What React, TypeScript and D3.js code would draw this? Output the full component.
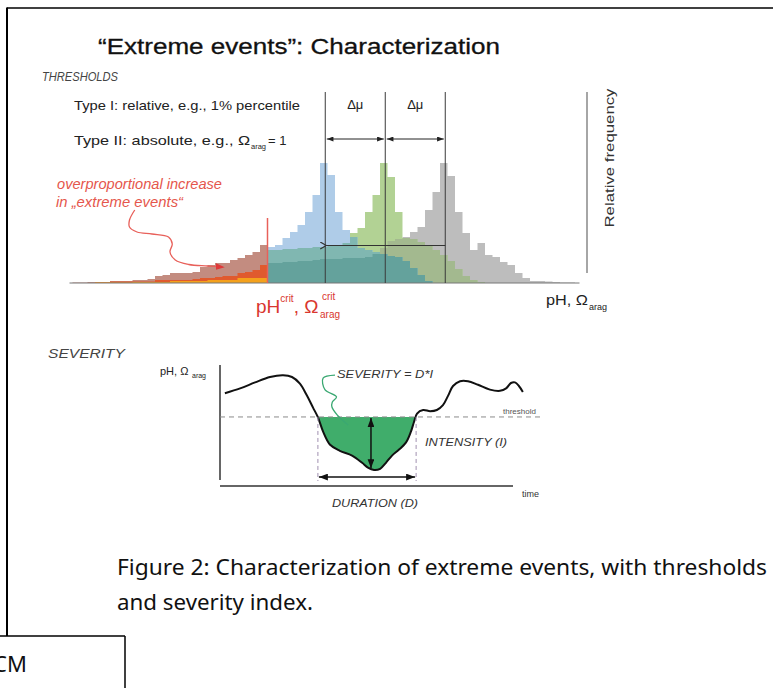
import React from 'react';
import * as d3 from 'd3';

// histogram bins, in bin units relative to the first (blue) mode
const BINS = d3.range(-33, 35);
// relative frequency per bin
const blueFreq = [
  0.5, 0.5, 1, 1, 1, 2, 2, 2, 3, 3, 4, 7, 8, 10, 10, 10, 11, 16, 18, 20, 20, 23, 25, 28, 31, 38,
  36, 38, 45, 51, 58, 71, 88, 120, 108, 71, 53, 46, 35, 33, 31, 29, 27, 26, 22, 15, 8, 2,
  0, 0, 0, 0, 0, 0, 0, 0, 0, 0, 0, 0, 0, 0, 0, 0, 0, 0, 0, 0,
];
const greenFreq = [
  0, 0, 0, 0.5, 0.5, 1.5, 1.5, 1.5, 1.5, 1.5, 1.5, 3, 3, 3, 3, 3, 4, 5, 5, 6, 7, 7, 10, 11, 13, 18,
  33, 33, 34, 34, 35, 35, 36, 36, 37, 38, 40, 50, 55, 71, 88, 120, 106, 71, 45, 44, 41, 37, 33, 28, 22, 14, 7, 3, 1,
  0, 0, 0, 0, 0, 0, 0, 0, 0, 0, 0, 0, 0,
];
const grayFreq = [
  0, 0, 0, 0.5, 0.5, 0.5, 0.5, 0.5, 1, 1, 1, 1, 1, 2, 2, 2, 2, 2, 3, 3, 3, 3, 5, 5, 5, 5,
  20, 20, 21, 21, 22, 22, 23, 24, 24, 24, 25, 25, 25, 26, 29, 35, 42, 44, 46, 51, 56, 73, 91, 120, 107, 71,
  50, 33, 40, 28, 26, 21, 18, 10, 5, 2, 2, 1.5, 1, 0.5, 0.5, 0,
];
const modeMeans = [0.7, 8.7, 16.7];
const critBin = -7;
const deltaLabels = ['Δμ', 'Δμ'];

// severity panel: time series (time 0-100, value 0-100)
const sevTime = [1.6, 6.6, 11.5, 16.4, 20.7, 23.6, 26.2, 28.5, 30.5, 32.1, 33.8, 36.1, 39.3, 43.3, 46.6, 48.5, 50.5, 52.5, 54.4, 56.4, 58.7, 61, 62.6, 63.6, 64.6, 66.6, 68.9, 71.1, 73.1, 74.8, 76.4, 78.7, 81.3, 84.6, 88.5, 91.8, 93.8, 95.4, 96.7, 98, 99.3];
const sevValue = [74, 78, 83, 87.5, 89, 87.5, 82, 72, 62, 54, 42, 31, 26, 22, 16, 12, 10, 11, 16, 22, 27, 33, 42, 50, 57, 60, 59, 60, 64, 72, 80, 84, 84, 81, 77, 76, 78, 82.5, 83, 80, 75];
const sevThreshold = 54.2;
const durationStart = 32.1;
const durationEnd = 64.3;
const intensityTime = 49.5;
const intensityMin = 11.5;

// annotation pointers
const redPointer: [number, number][] = [[-24.7, 73], [-25.4, 63], [-25.4, 56], [-24.4, 51], [-22.4, 49], [-20.2, 46], [-19.7, 39], [-20, 31], [-19.3, 23], [-17.5, 18.5], [-15, 17], [-13, 16]];
const greenPointer: [number, number][] = [[37.7, 89], [33.8, 86.5], [34.4, 77], [38.2, 71], [36.8, 66.5], [36.7, 62.5], [38.4, 56], [42, 47.5]];

const FONT = "'Liberation Sans', Arial, sans-serif";
const CAPTION_FONT = "'Noto Sans', 'Open Sans', sans-serif";

export default function App() {
  const xH = d3.scaleLinear().domain([-34, 35]).range([65, 582.5]);
  const yH = d3.scaleLinear().domain([0, 120]).range([283, 163]);
  const xT = d3.scaleLinear().domain([0, 100]).range([220, 525]);
  const yS = d3.scaleLinear().domain([0, 100]).range([482, 362]);

  const stepArea = (vals: number[]) => {
    const pts: [number, number][] = vals.map((v, i) => [BINS[i], v]);
    pts.push([BINS[BINS.length - 1] + 1, vals[vals.length - 1]]);
    return d3.area<[number, number]>()
      .x(d => xH(d[0]))
      .y0(yH(0))
      .y1(d => yH(d[1]))
      .curve(d3.curveStepAfter)(pts) || '';
  };
  const minOf = (...arrs: number[][]) => BINS.map((_, i) => Math.min(...arrs.map(a => a[i])));

  // single + overlap layers; tail colours left of the critical threshold
  const layers = [
    { vals: grayFreq, main: '#bdbdbd', tail: '#f4a11c' },
    { vals: greenFreq, main: '#b2d294', tail: '#e05a2e' },
    { vals: blueFreq, main: '#afcce8', tail: '#c38c80' },
    { vals: minOf(greenFreq, grayFreq), main: '#a3b98f', tail: '#f08a22' },
    { vals: minOf(blueFreq, grayFreq), main: '#8fb4c4', tail: '#f4a11c' },
    { vals: minOf(blueFreq, greenFreq), main: '#80b7b1', tail: '#e05a2e' },
    { vals: minOf(blueFreq, greenFreq, grayFreq), main: '#64a29c', tail: '#f4a11c' },
  ];

  const critX = xH(critBin);

  const sevPts: [number, number][] = sevTime.map((t, i) => [t, sevValue[i]]);
  const sevLine = d3.line<[number, number]>().x(d => xT(d[0])).y(d => yS(d[1])).curve(d3.curveCatmullRom)(sevPts) || '';
  const sevArea = d3.area<[number, number]>().x(d => xT(d[0])).y0(yS(sevThreshold)).y1(d => yS(d[1])).curve(d3.curveCatmullRom)(sevPts) || '';
  const thrY = yS(sevThreshold);

  const redPath = d3.line<[number, number]>().x(d => xH(d[0])).y(d => yH(d[1])).curve(d3.curveCatmullRom)(redPointer) || '';
  const greenPath = d3.line<[number, number]>().x(d => xT(d[0])).y(d => yS(d[1])).curve(d3.curveCatmullRom)(greenPointer) || '';

  const meanX = modeMeans.map(m => xH(m));

  return (
    <svg width={773} height={688} style={{ position: 'absolute', left: 0, top: 0, background: '#fff' }} fontFamily={FONT}>
      <defs>
        <marker id="ah" viewBox="0 0 8 6" refX="8" refY="3" markerWidth="7" markerHeight="5" markerUnits="userSpaceOnUse" orient="auto-start-reverse">
          <path d="M0,0 L8,3 L0,6 z" fill="#222" />
        </marker>
        <marker id="ahBig" viewBox="0 0 8 6" refX="8" refY="3" markerWidth="9" markerHeight="7" markerUnits="userSpaceOnUse" orient="auto-start-reverse">
          <path d="M0,0 L8,3 L0,6 z" fill="#111" />
        </marker>
        <marker id="chev" viewBox="0 0 8 8" refX="1" refY="4" markerWidth="8" markerHeight="8" markerUnits="userSpaceOnUse" orient="auto">
          <path d="M7,0.5 L1,4 L7,7.5" fill="none" stroke="#333" strokeWidth="1.2" />
        </marker>
        <marker id="ahRed" viewBox="0 0 8 6" refX="6" refY="3" markerWidth="9" markerHeight="7" markerUnits="userSpaceOnUse" orient="auto">
          <path d="M0,0 L8,3 L0,6 z" fill="#e0393a" />
        </marker>
        <clipPath id="tailClip"><rect x={0} y={0} width={critX} height={400} /></clipPath>
        <clipPath id="mainClip"><rect x={critX} y={0} width={773 - critX} height={400} /></clipPath>
        <clipPath id="belowThr"><rect x={0} y={thrY} width={773} height={200} /></clipPath>
      </defs>

      {/* frame */}
      <line x1={7} y1={8} x2={773} y2={8} stroke="#000" strokeWidth={1.5} />
      <line x1={7} y1={7.5} x2={7} y2={636} stroke="#000" strokeWidth={2} />
      <line x1={0} y1={636} x2={125} y2={636} stroke="#000" strokeWidth={1.5} />
      <line x1={125} y1={636} x2={125} y2={688} stroke="#000" strokeWidth={1.5} />
      <text x={-7} y={672} fontFamily={CAPTION_FONT} fontSize={22} fill="#111">CM</text>

      {/* title */}
      <text x={98} y={54} fontSize={22} fill="#111" stroke="#111" strokeWidth={0.3} textLength={402} lengthAdjust="spacingAndGlyphs">“Extreme events”: Characterization</text>
      <text x={42} y={81} fontSize={12} fontStyle="italic" fill="#444" textLength={76} lengthAdjust="spacingAndGlyphs">THRESHOLDS</text>
      <text x={74} y={110} fontSize={13} fill="#222" textLength={226} lengthAdjust="spacingAndGlyphs">Type I: relative, e.g., 1% percentile</text>
      <text x={74} y={145} fontSize={13} fill="#222" textLength={176} lengthAdjust="spacingAndGlyphs">Type II: absolute, e.g., Ω</text>
      <text x={251} y={149} fontSize={7.5} fill="#222">arag</text>
      <text x={268} y={145} fontSize={13} fill="#222">= 1</text>

      {/* histograms */}
      <g clipPath="url(#mainClip)">
        {layers.map((l, i) => <path key={'m' + i} d={stepArea(l.vals)} fill={l.main} />)}
      </g>
      <g clipPath="url(#tailClip)">
        {layers.map((l, i) => <path key={'t' + i} d={stepArea(l.vals)} fill={l.tail} />)}
      </g>
      <line x1={xH(-33.4)} y1={yH(0)} x2={xH(34.6)} y2={yH(0)} stroke="#777" strokeWidth={1} />

      {/* critical threshold */}
      <line x1={critX} y1={yH(0)} x2={critX} y2={yH(65)} stroke="#e8605a" strokeWidth={1.5} />

      {/* mode means + shifts */}
      {meanX.map((x, i) => <line key={'mean' + i} x1={x} y1={92} x2={x} y2={yH(0)} stroke="#3a3a3a" strokeWidth={1} />)}
      {deltaLabels.map((lab, i) => (
        <text key={'dl' + i} x={(meanX[i] + meanX[i + 1]) / 2} y={109} fontSize={13} fill="#222" textAnchor="middle">{lab}</text>
      ))}
      {deltaLabels.map((_, i) => (
        <line key={'da' + i} x1={meanX[i] + 1.5} y1={139} x2={meanX[i + 1] - 1.5} y2={139} stroke="#222" strokeWidth={1} markerStart="url(#ah)" markerEnd="url(#ah)" />
      ))}
      <line x1={meanX[2]} y1={yH(37.5)} x2={meanX[0] + 1} y2={yH(37.5)} stroke="#333" strokeWidth={1.2} markerEnd="url(#chev)" />

      {/* relative frequency axis */}
      <line x1={587} y1={92} x2={587} y2={273} stroke="#888" strokeWidth={1.5} />
      <text transform="translate(614,158) rotate(-90)" fontSize={12.5} fill="#333" textAnchor="middle" textLength={139} lengthAdjust="spacingAndGlyphs">Relative frequency</text>
      <text x={546} y={305} fontSize={15} fill="#222" textLength={42} lengthAdjust="spacingAndGlyphs">pH, Ω</text>
      <text x={589} y={310} fontSize={9} fill="#222">arag</text>

      {/* red annotation */}
      <text x={57} y={189} fontSize={14} fontStyle="italic" fill="#e5564c" textLength={165} lengthAdjust="spacingAndGlyphs">overproportional increase</text>
      <text x={56} y={207} fontSize={14} fontStyle="italic" fill="#e5564c" textLength={127} lengthAdjust="spacingAndGlyphs">in „extreme events“</text>
      <path d={redPath} fill="none" stroke="#e8605a" strokeWidth={1.3} markerEnd="url(#ahRed)" />
      <text x={256} y={313} fontSize={19} fill="#d9362e">
        pH<tspan fontSize={10} dy={-11}>crit</tspan><tspan fontSize={19} dy={11}>, Ω</tspan>
      </text>
      <text x={322} y={300} fontSize={10} fill="#d9362e">crit</text>
      <text x={320} y={318} fontSize={10} fill="#d9362e">arag</text>

      {/* severity panel */}
      <text x={48} y={358} fontSize={12} fontStyle="italic" fill="#444" textLength={77} lengthAdjust="spacingAndGlyphs">SEVERITY</text>
      <text x={160} y={375} fontSize={11} fill="#222">pH, Ω</text>
      <text x={192} y={378} fontSize={7} fill="#222">arag</text>
      <line x1={xT(0)} y1={365} x2={xT(0)} y2={480} stroke="#333" strokeWidth={1.5} />
      <line x1={xT(0)} y1={486} x2={513} y2={486} stroke="#333" strokeWidth={1.5} />
      <text x={522} y={497} fontSize={9} fill="#333">time</text>

      <path d={sevArea} fill="#40ad6b" clipPath="url(#belowThr)" />
      <line x1={xT(0)} y1={thrY} x2={540} y2={thrY} stroke="#8a8a8a" strokeWidth={1} strokeDasharray="5,4" />
      <text x={503} y={414} fontSize={8} fill="#555">threshold</text>
      <path d={sevLine} fill="none" stroke="#111" strokeWidth={2} />

      {[durationStart, durationEnd].map((t, i) => (
        <line key={'dv' + i} x1={xT(t)} y1={thrY} x2={xT(t)} y2={481} stroke="#a090b0" strokeWidth={1} strokeDasharray="4,3" />
      ))}
      <line x1={xT(durationStart) + 1} y1={477} x2={xT(durationEnd) - 1} y2={477} stroke="#111" strokeWidth={1.5} markerStart="url(#ahBig)" markerEnd="url(#ahBig)" />
      <text x={332} y={507} fontSize={11.5} fontStyle="italic" fill="#333" textLength={86} lengthAdjust="spacingAndGlyphs">DURATION (D)</text>
      <line x1={xT(intensityTime)} y1={thrY + 1} x2={xT(intensityTime)} y2={yS(intensityMin)} stroke="#111" strokeWidth={1.5} markerStart="url(#ahBig)" markerEnd="url(#ahBig)" />
      <text x={425} y={446} fontSize={11.5} fontStyle="italic" fill="#333" textLength={82} lengthAdjust="spacingAndGlyphs">INTENSITY (I)</text>
      <path d={greenPath} fill="none" stroke="#3aa872" strokeWidth={1.3} />
      <text x={337} y={378} fontSize={11.5} fontStyle="italic" fill="#333" textLength={96} lengthAdjust="spacingAndGlyphs">SEVERITY = D*I</text>

      {/* caption */}
      <text x={117} y={575} fontFamily={CAPTION_FONT} fontSize={21} fill="#111" textLength={650} lengthAdjust="spacingAndGlyphs">Figure 2: Characterization of extreme events, with thresholds</text>
      <text x={117} y={610} fontFamily={CAPTION_FONT} fontSize={21} fill="#111" textLength={196} lengthAdjust="spacingAndGlyphs">and severity index.</text>
    </svg>
  );
}
